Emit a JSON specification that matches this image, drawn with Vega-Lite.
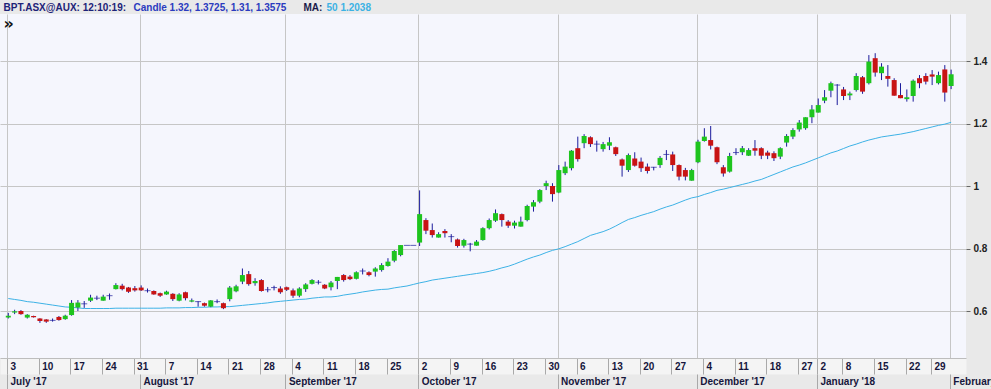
{
  "$schema": "https://vega.github.io/schema/vega-lite/v6.json",
  "width": 966,
  "height": 344,
  "autosize": {"type": "none"},
  "padding": {"top": 14, "left": 0, "right": 25, "bottom": 31},
  "background": "#e9e9e9",
  "config": {
    "view": {"stroke": null, "fill": "#f5f6fd"},
    "font": "Liberation Sans"
  },
  "data": {"values": [
    {"i":0,"o":0.579,"h":0.594,"l":0.576,"c":0.585,"ma":0.640},
    {"i":1,"o":0.595,"h":0.604,"l":0.590,"c":0.599,"ma":0.637},
    {"i":2,"o":0.600,"h":0.603,"l":0.588,"c":0.590,"ma":0.634},
    {"i":3,"o":0.579,"h":0.590,"l":0.576,"c":0.588,"ma":0.630},
    {"i":4,"o":0.584,"h":0.585,"l":0.579,"c":0.580,"ma":0.628},
    {"i":5,"o":0.576,"h":0.577,"l":0.562,"c":0.568,"ma":0.625},
    {"i":6,"o":0.573,"h":0.574,"l":0.562,"c":0.566,"ma":0.622},
    {"i":7,"o":0.570,"h":0.576,"l":0.566,"c":0.570,"ma":0.619},
    {"i":8,"o":0.581,"h":0.584,"l":0.569,"c":0.571,"ma":0.616},
    {"i":9,"o":0.574,"h":0.588,"l":0.572,"c":0.585,"ma":0.613},
    {"i":10,"o":0.587,"h":0.635,"l":0.585,"c":0.626,"ma":0.612},
    {"i":11,"o":0.611,"h":0.635,"l":0.600,"c":0.627,"ma":0.610},
    {"i":12,"o":0.623,"h":0.632,"l":0.610,"c":0.623,"ma":0.608},
    {"i":13,"o":0.633,"h":0.652,"l":0.629,"c":0.643,"ma":0.608},
    {"i":14,"o":0.641,"h":0.649,"l":0.635,"c":0.641,"ma":0.608},
    {"i":15,"o":0.633,"h":0.652,"l":0.633,"c":0.646,"ma":0.608},
    {"i":16,"o":0.649,"h":0.656,"l":0.636,"c":0.649,"ma":0.608},
    {"i":17,"o":0.670,"h":0.689,"l":0.669,"c":0.683,"ma":0.609},
    {"i":18,"o":0.681,"h":0.687,"l":0.666,"c":0.670,"ma":0.609},
    {"i":19,"o":0.675,"h":0.677,"l":0.658,"c":0.662,"ma":0.609},
    {"i":20,"o":0.673,"h":0.680,"l":0.662,"c":0.666,"ma":0.609},
    {"i":21,"o":0.675,"h":0.682,"l":0.664,"c":0.666,"ma":0.609},
    {"i":22,"o":0.665,"h":0.672,"l":0.659,"c":0.665,"ma":0.609},
    {"i":23,"o":0.664,"h":0.666,"l":0.652,"c":0.653,"ma":0.609},
    {"i":24,"o":0.657,"h":0.659,"l":0.645,"c":0.649,"ma":0.609},
    {"i":25,"o":0.653,"h":0.665,"l":0.652,"c":0.662,"ma":0.610},
    {"i":26,"o":0.655,"h":0.657,"l":0.632,"c":0.638,"ma":0.610},
    {"i":27,"o":0.633,"h":0.657,"l":0.631,"c":0.653,"ma":0.610},
    {"i":28,"o":0.660,"h":0.662,"l":0.634,"c":0.641,"ma":0.611},
    {"i":29,"o":0.630,"h":0.640,"l":0.628,"c":0.634,"ma":0.611},
    {"i":30,"o":0.630,"h":0.631,"l":0.614,"c":0.630,"ma":0.612},
    {"i":31,"o":0.625,"h":0.627,"l":0.614,"c":0.617,"ma":0.612},
    {"i":32,"o":0.614,"h":0.635,"l":0.612,"c":0.634,"ma":0.613},
    {"i":33,"o":0.630,"h":0.637,"l":0.625,"c":0.630,"ma":0.613},
    {"i":34,"o":0.625,"h":0.627,"l":0.606,"c":0.609,"ma":0.614},
    {"i":35,"o":0.638,"h":0.680,"l":0.631,"c":0.675,"ma":0.614},
    {"i":36,"o":0.663,"h":0.684,"l":0.660,"c":0.679,"ma":0.616},
    {"i":37,"o":0.694,"h":0.736,"l":0.686,"c":0.715,"ma":0.618},
    {"i":38,"o":0.718,"h":0.728,"l":0.681,"c":0.686,"ma":0.620},
    {"i":39,"o":0.689,"h":0.705,"l":0.681,"c":0.696,"ma":0.622},
    {"i":40,"o":0.699,"h":0.702,"l":0.662,"c":0.664,"ma":0.624},
    {"i":41,"o":0.668,"h":0.677,"l":0.660,"c":0.668,"ma":0.626},
    {"i":42,"o":0.675,"h":0.681,"l":0.666,"c":0.675,"ma":0.629},
    {"i":43,"o":0.672,"h":0.679,"l":0.655,"c":0.660,"ma":0.631},
    {"i":44,"o":0.676,"h":0.678,"l":0.664,"c":0.668,"ma":0.633},
    {"i":45,"o":0.666,"h":0.672,"l":0.642,"c":0.649,"ma":0.635},
    {"i":46,"o":0.649,"h":0.676,"l":0.644,"c":0.672,"ma":0.637},
    {"i":47,"o":0.670,"h":0.689,"l":0.661,"c":0.685,"ma":0.638},
    {"i":48,"o":0.687,"h":0.702,"l":0.685,"c":0.699,"ma":0.641},
    {"i":49,"o":0.692,"h":0.699,"l":0.685,"c":0.692,"ma":0.643},
    {"i":50,"o":0.684,"h":0.686,"l":0.670,"c":0.672,"ma":0.645},
    {"i":51,"o":0.676,"h":0.696,"l":0.666,"c":0.691,"ma":0.645},
    {"i":52,"o":0.696,"h":0.709,"l":0.670,"c":0.709,"ma":0.647},
    {"i":53,"o":0.715,"h":0.718,"l":0.694,"c":0.699,"ma":0.651},
    {"i":54,"o":0.710,"h":0.715,"l":0.699,"c":0.702,"ma":0.654},
    {"i":55,"o":0.703,"h":0.727,"l":0.701,"c":0.724,"ma":0.657},
    {"i":56,"o":0.728,"h":0.736,"l":0.717,"c":0.728,"ma":0.661},
    {"i":57,"o":0.724,"h":0.727,"l":0.711,"c":0.715,"ma":0.664},
    {"i":58,"o":0.726,"h":0.740,"l":0.710,"c":0.736,"ma":0.667},
    {"i":59,"o":0.731,"h":0.753,"l":0.726,"c":0.747,"ma":0.669},
    {"i":60,"o":0.744,"h":0.769,"l":0.742,"c":0.758,"ma":0.670},
    {"i":61,"o":0.761,"h":0.795,"l":0.756,"c":0.792,"ma":0.674},
    {"i":62,"o":0.779,"h":0.811,"l":0.775,"c":0.811,"ma":0.677},
    {"i":63,"o":0.810,"h":0.810,"l":0.810,"c":0.810,"ma":0.680},
    {"i":64,"o":0.810,"h":0.810,"l":0.810,"c":0.810,"ma":0.685},
    {"i":65,"o":0.819,"h":0.986,"l":0.808,"c":0.910,"ma":0.690},
    {"i":66,"o":0.891,"h":0.897,"l":0.846,"c":0.857,"ma":0.694},
    {"i":67,"o":0.859,"h":0.880,"l":0.835,"c":0.843,"ma":0.699},
    {"i":68,"o":0.835,"h":0.852,"l":0.835,"c":0.846,"ma":0.702},
    {"i":69,"o":0.856,"h":0.862,"l":0.835,"c":0.849,"ma":0.705},
    {"i":70,"o":0.838,"h":0.846,"l":0.820,"c":0.838,"ma":0.708},
    {"i":71,"o":0.829,"h":0.832,"l":0.803,"c":0.808,"ma":0.711},
    {"i":72,"o":0.809,"h":0.831,"l":0.803,"c":0.827,"ma":0.714},
    {"i":73,"o":0.814,"h":0.818,"l":0.791,"c":0.814,"ma":0.717},
    {"i":74,"o":0.809,"h":0.827,"l":0.809,"c":0.822,"ma":0.720},
    {"i":75,"o":0.827,"h":0.868,"l":0.825,"c":0.865,"ma":0.723},
    {"i":76,"o":0.865,"h":0.896,"l":0.861,"c":0.891,"ma":0.727},
    {"i":77,"o":0.889,"h":0.925,"l":0.885,"c":0.913,"ma":0.732},
    {"i":78,"o":0.910,"h":0.912,"l":0.870,"c":0.891,"ma":0.738},
    {"i":79,"o":0.886,"h":0.891,"l":0.866,"c":0.873,"ma":0.743},
    {"i":80,"o":0.873,"h":0.889,"l":0.864,"c":0.883,"ma":0.750},
    {"i":81,"o":0.870,"h":0.902,"l":0.870,"c":0.886,"ma":0.758},
    {"i":82,"o":0.891,"h":0.940,"l":0.887,"c":0.936,"ma":0.766},
    {"i":83,"o":0.934,"h":0.955,"l":0.918,"c":0.948,"ma":0.773},
    {"i":84,"o":0.950,"h":0.990,"l":0.945,"c":0.987,"ma":0.779},
    {"i":85,"o":1.000,"h":1.017,"l":0.987,"c":1.009,"ma":0.787},
    {"i":86,"o":1.000,"h":1.009,"l":0.950,"c":0.974,"ma":0.794},
    {"i":87,"o":0.979,"h":1.067,"l":0.977,"c":1.051,"ma":0.799},
    {"i":88,"o":1.041,"h":1.078,"l":1.035,"c":1.062,"ma":0.806},
    {"i":89,"o":1.057,"h":1.115,"l":1.050,"c":1.113,"ma":0.814},
    {"i":90,"o":1.121,"h":1.158,"l":1.078,"c":1.086,"ma":0.822},
    {"i":91,"o":1.137,"h":1.166,"l":1.121,"c":1.160,"ma":0.832},
    {"i":92,"o":1.156,"h":1.159,"l":1.125,"c":1.134,"ma":0.842},
    {"i":93,"o":1.134,"h":1.145,"l":1.110,"c":1.134,"ma":0.848},
    {"i":94,"o":1.118,"h":1.141,"l":1.110,"c":1.134,"ma":0.854},
    {"i":95,"o":1.129,"h":1.156,"l":1.115,"c":1.140,"ma":0.862},
    {"i":96,"o":1.124,"h":1.126,"l":1.096,"c":1.102,"ma":0.872},
    {"i":97,"o":1.085,"h":1.088,"l":1.030,"c":1.065,"ma":0.883},
    {"i":98,"o":1.051,"h":1.104,"l":1.045,"c":1.099,"ma":0.893},
    {"i":99,"o":1.088,"h":1.108,"l":1.062,"c":1.065,"ma":0.899},
    {"i":100,"o":1.078,"h":1.091,"l":1.045,"c":1.057,"ma":0.906},
    {"i":101,"o":1.062,"h":1.072,"l":1.040,"c":1.048,"ma":0.912},
    {"i":102,"o":1.060,"h":1.061,"l":1.050,"c":1.060,"ma":0.918},
    {"i":103,"o":1.067,"h":1.096,"l":1.058,"c":1.090,"ma":0.926},
    {"i":104,"o":1.101,"h":1.115,"l":1.083,"c":1.101,"ma":0.933},
    {"i":105,"o":1.101,"h":1.110,"l":1.048,"c":1.067,"ma":0.939},
    {"i":106,"o":1.067,"h":1.069,"l":1.018,"c":1.030,"ma":0.947},
    {"i":107,"o":1.051,"h":1.058,"l":1.018,"c":1.030,"ma":0.955},
    {"i":108,"o":1.017,"h":1.055,"l":1.017,"c":1.051,"ma":0.962},
    {"i":109,"o":1.076,"h":1.148,"l":1.073,"c":1.142,"ma":0.966},
    {"i":110,"o":1.144,"h":1.185,"l":1.142,"c":1.158,"ma":0.973},
    {"i":111,"o":1.147,"h":1.192,"l":1.117,"c":1.129,"ma":0.979},
    {"i":112,"o":1.124,"h":1.126,"l":1.070,"c":1.076,"ma":0.986},
    {"i":113,"o":1.060,"h":1.067,"l":1.030,"c":1.040,"ma":0.990},
    {"i":114,"o":1.046,"h":1.106,"l":1.043,"c":1.096,"ma":0.995},
    {"i":115,"o":1.107,"h":1.121,"l":1.099,"c":1.107,"ma":1.000},
    {"i":116,"o":1.108,"h":1.128,"l":1.099,"c":1.121,"ma":1.005},
    {"i":117,"o":1.097,"h":1.121,"l":1.096,"c":1.115,"ma":1.010},
    {"i":118,"o":1.121,"h":1.147,"l":1.097,"c":1.113,"ma":1.016},
    {"i":119,"o":1.121,"h":1.124,"l":1.086,"c":1.097,"ma":1.021},
    {"i":120,"o":1.107,"h":1.113,"l":1.086,"c":1.097,"ma":1.029},
    {"i":121,"o":1.105,"h":1.111,"l":1.080,"c":1.089,"ma":1.037},
    {"i":122,"o":1.094,"h":1.124,"l":1.086,"c":1.121,"ma":1.045},
    {"i":123,"o":1.139,"h":1.166,"l":1.126,"c":1.160,"ma":1.053},
    {"i":124,"o":1.158,"h":1.185,"l":1.150,"c":1.179,"ma":1.061},
    {"i":125,"o":1.181,"h":1.211,"l":1.174,"c":1.203,"ma":1.067},
    {"i":126,"o":1.185,"h":1.220,"l":1.180,"c":1.220,"ma":1.074},
    {"i":127,"o":1.220,"h":1.259,"l":1.201,"c":1.245,"ma":1.082},
    {"i":128,"o":1.235,"h":1.280,"l":1.235,"c":1.259,"ma":1.090},
    {"i":129,"o":1.273,"h":1.307,"l":1.265,"c":1.284,"ma":1.098},
    {"i":130,"o":1.305,"h":1.334,"l":1.284,"c":1.329,"ma":1.106},
    {"i":131,"o":1.323,"h":1.326,"l":1.259,"c":1.323,"ma":1.112},
    {"i":132,"o":1.309,"h":1.317,"l":1.275,"c":1.288,"ma":1.120},
    {"i":133,"o":1.290,"h":1.302,"l":1.275,"c":1.296,"ma":1.128},
    {"i":134,"o":1.307,"h":1.361,"l":1.302,"c":1.352,"ma":1.134},
    {"i":135,"o":1.348,"h":1.352,"l":1.295,"c":1.302,"ma":1.141},
    {"i":136,"o":1.329,"h":1.419,"l":1.325,"c":1.398,"ma":1.147},
    {"i":137,"o":1.409,"h":1.425,"l":1.350,"c":1.363,"ma":1.152},
    {"i":138,"o":1.361,"h":1.393,"l":1.339,"c":1.382,"ma":1.157},
    {"i":139,"o":1.352,"h":1.387,"l":1.318,"c":1.343,"ma":1.160},
    {"i":140,"o":1.339,"h":1.345,"l":1.289,"c":1.289,"ma":1.163},
    {"i":141,"o":1.291,"h":1.329,"l":1.281,"c":1.281,"ma":1.166},
    {"i":142,"o":1.278,"h":1.309,"l":1.270,"c":1.284,"ma":1.170},
    {"i":143,"o":1.288,"h":1.341,"l":1.270,"c":1.337,"ma":1.174},
    {"i":144,"o":1.345,"h":1.355,"l":1.313,"c":1.329,"ma":1.179},
    {"i":145,"o":1.352,"h":1.361,"l":1.325,"c":1.334,"ma":1.184},
    {"i":146,"o":1.357,"h":1.371,"l":1.323,"c":1.350,"ma":1.189},
    {"i":147,"o":1.329,"h":1.366,"l":1.325,"c":1.355,"ma":1.194},
    {"i":148,"o":1.373,"h":1.387,"l":1.270,"c":1.299,"ma":1.198},
    {"i":149,"o":1.320,"h":1.3725,"l":1.310,"c":1.3575,"ma":1.2038}
  ]},
  "resolve": {"axis": {"x": "independent", "y": "independent"}},
  "layer": [
    {
      "mark": {"type": "line", "color": "#3db2e6", "strokeWidth": 1},
      "encoding": {
        "x": {"field": "i", "type": "quantitative",
          "scale": {"domain": [-0.52, 150.56], "nice": false, "zero": false},
          "axis": {"orient": "bottom", "offset": 8, "domain": true, "domainWidth": 16, "domainColor": "#f4f4f4",
                   "ticks": false, "labels": false, "grid": false, "title": null}},
        "y": {"field": "ma", "type": "quantitative",
          "scale": {"domain": [0.4496, 1.5504], "nice": false, "zero": false},
          "axis": {"orient": "left", "domain": false, "ticks": false, "labels": false, "grid": false,
                   "title": "»", "titleX": 3, "titleY": 14, "titleAngle": 0, "titleAlign": "left",
                   "titleBaseline": "alphabetic", "titleFontSize": 16, "titleFontWeight": "bold", "titleColor": "#111111",
                   "titleFont": "DejaVu Sans"}}
      }
    },
    {
      "mark": {"type": "rule", "color": "#1c1c9c", "strokeWidth": 1},
      "encoding": {
        "x": {"field": "i", "type": "quantitative",
          "scale": {"domain": [-0.52, 150.56], "nice": false, "zero": false},
          "axis": {"orient": "bottom", "offset": 0, "grid": false,
                   "title": "Candle 1.32, 1.3725, 1.31, 1.3575", "titleX": 133, "titleY": -348, "titleAngle": 0,
                   "titleAlign": "left", "titleBaseline": "alphabetic", "titleFontSize": 10, "titleFontWeight": "bold",
                   "titleColor": "#2b3bbf", "titleFont": "Liberation Sans",
                   "domain": true, "domainColor": "#bdbdbd",
                   "values": [-0.2,4.8,9.8,14.8,19.8,24.8,29.8,34.8,39.8,44.8,49.8,54.8,59.8,64.8,69.8,74.8,79.8,84.8,89.8,94.8,99.8,104.8,109.8,114.8,119.8,124.8,127.8,131.8,136.8,141.8,145.8],
                   "labelExpr": "['3','10','17','24','31','7','14','21','28','4','11','18','25','2','9','16','23','30','6','13','20','27','4','11','18','27','2','8','15','22','29'][indexof([-0.2,4.8,9.8,14.8,19.8,24.8,29.8,34.8,39.8,44.8,49.8,54.8,59.8,64.8,69.8,74.8,79.8,84.8,89.8,94.8,99.8,104.8,109.8,114.8,119.8,124.8,127.8,131.8,136.8,141.8,145.8], datum.value)]",
                   "tickSize": 16, "tickColor": "#a9a9a9", "labelAlign": "left", "labelBaseline": "middle",
                   "labelPadding": -8, "labelOffset": 3, "labelFontSize": 10, "labelFontWeight": "bold",
                   "labelColor": "#16163c", "labelFont": "Liberation Sans", "labelOverlap": false, "labelFlush": false, "labelBound": false}},
        "y": {"field": "l", "type": "quantitative",
          "scale": {"domain": [0.4496, 1.5504], "nice": false, "zero": false},
          "axis": {"orient": "right", "title": null, "values": [0.6, 0.8, 1, 1.2, 1.4], "format": "~g",
                   "grid": true, "gridColor": "#c6c6c6", "domain": false, "tickSize": 4, "tickColor": "#666666",
                   "labelPadding": 3, "labelFontSize": 10, "labelFontWeight": "bold", "labelColor": "#222222",
                   "labelFont": "Liberation Sans"}},
        "y2": {"field": "h"}
      }
    },
    {
      "mark": {"type": "bar", "size": 5, "orient": "vertical"},
      "encoding": {
        "x": {"field": "i", "type": "quantitative",
          "scale": {"domain": [-0.52, 150.56], "nice": false, "zero": false},
          "axis": {"orient": "bottom", "offset": 16, "title": null, "domain": false,
                   "grid": true, "gridColor": "#c6c6c6",
                   "values": [-0.2, 20.8, 43.8, 64.8, 86.8, 108.8, 127.8, 148.8],
                   "labelExpr": "[\"July '17\",\"August '17\",\"September '17\",\"October '17\",\"November '17\",\"December '17\",\"January '18\",\"February '18\"][indexof([-0.2, 20.8, 43.8, 64.8, 86.8, 108.8, 127.8, 148.8], datum.value)]",
                   "tickSize": 15, "tickColor": "#a9a9a9", "labelAlign": "left", "labelBaseline": "middle",
                   "labelPadding": -7.5, "labelOffset": 3, "labelFontSize": 10, "labelFontWeight": "bold",
                   "labelColor": "#16163c", "labelFont": "Liberation Sans", "labelOverlap": false, "labelFlush": false, "labelBound": false}},
        "y": {"field": "o", "type": "quantitative",
          "scale": {"domain": [0.4496, 1.5504], "nice": false, "zero": false},
          "axis": {"orient": "left", "domain": false, "ticks": false, "labels": false, "grid": false,
                   "title": "MA:", "titleX": 303, "titleY": -4, "titleAngle": 0, "titleAlign": "left",
                   "titleBaseline": "alphabetic", "titleFontSize": 10, "titleFontWeight": "bold", "titleColor": "#1a1a4a",
                   "titleFont": "Liberation Sans"}},
        "y2": {"field": "c"},
        "color": {"condition": {"test": "datum.c >= datum.o", "value": "#1ec41e"}, "value": "#c81414"}
      }
    },
    {
      "transform": [{"filter": "datum.o == datum.c"}],
      "mark": {"type": "tick", "orient": "horizontal", "size": 6, "thickness": 1, "color": "#1c1c9c"},
      "encoding": {
        "x": {"field": "i", "type": "quantitative",
          "scale": {"domain": [-0.52, 150.56], "nice": false, "zero": false},
          "axis": {"orient": "top", "domain": false, "ticks": false, "labels": false, "grid": false,
                   "title": "BPT.ASX@AUX: 12:10:19:", "titleX": 3, "titleY": -4, "titleAngle": 0, "titleAlign": "left",
                   "titleBaseline": "alphabetic", "titleFontSize": 10, "titleFontWeight": "bold", "titleColor": "#1d2378",
                   "titleFont": "Liberation Sans"}},
        "y": {"field": "o", "type": "quantitative",
          "scale": {"domain": [0.4496, 1.5504], "nice": false, "zero": false},
          "axis": {"orient": "left", "domain": false, "ticks": false, "labels": false, "grid": false,
                   "title": "50 1.2038", "titleX": 326, "titleY": -4, "titleAngle": 0, "titleAlign": "left",
                   "titleBaseline": "alphabetic", "titleFontSize": 10, "titleFontWeight": "bold", "titleColor": "#3cb2e4",
                   "titleFont": "Liberation Sans"}}
      }
    }
  ]
}
